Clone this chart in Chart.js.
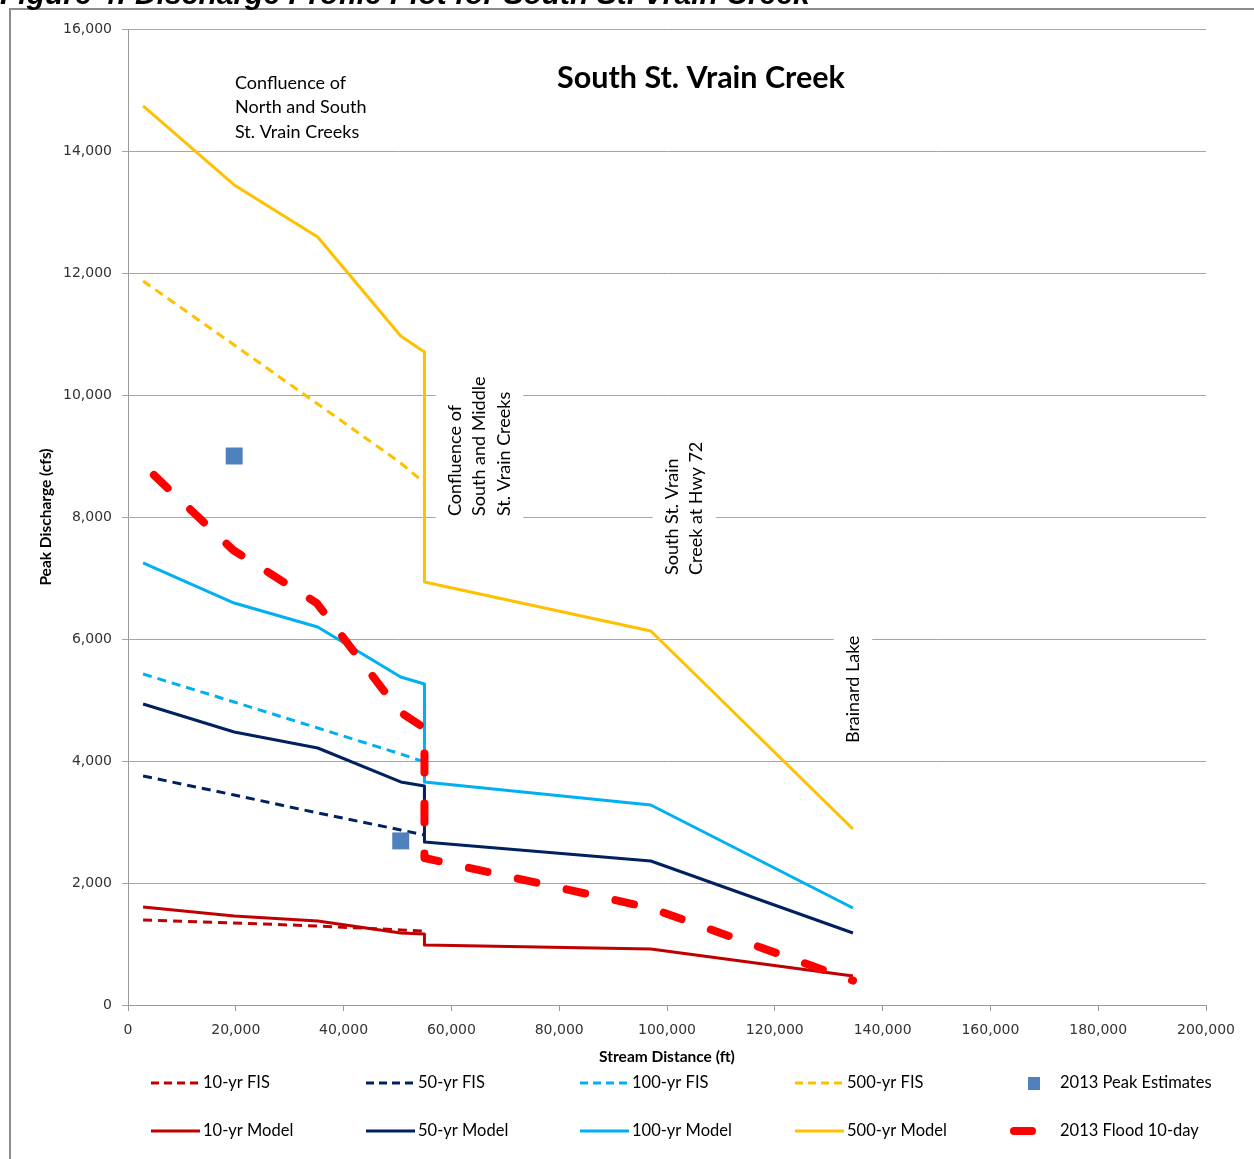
<!DOCTYPE html>
<html>
<head>
<meta charset="utf-8">
<script src="https://cdn.jsdelivr.net/npm/chart.js@4.4.1/dist/chart.umd.min.js"></script>
<style>
  html, body { margin: 0; padding: 0; background: #ffffff; overflow: hidden; }
  #wrap { position: relative; width: 1254px; height: 1159px; }
</style>
</head>
<body>
<div id="wrap"><canvas id="chart" width="1254" height="1159"></canvas></div>
<script>
// Stream distance (ft) of the model nodes; 55,000 ft appears twice for the confluence step
const distanceModel = [2800, 19700, 35200, 50600, 55000, 55000, 97000, 134500];
const q10Model  = [1607, 1459, 1377, 1180, 1164, 984, 918, 475];
const q50Model  = [4934, 4475, 4213, 3656, 3590, 2672, 2361, 1180];
const q100Model = [7246, 6590, 6197, 5377, 5262, 3656, 3279, 1590];
const q500Model = [14738, 13443, 12590, 10967, 10705, 6934, 6131, 2885];

// Effective FIS discharges (upstream reach only)
const distanceFIS = [2800, 19700, 35200, 50600, 55000];
const q10FIS  = [1393, 1344, 1295, 1230, 1213];
const q50FIS  = [3754, 3443, 3148, 2869, 2787];
const q100FIS = [5426, 4967, 4541, 4115, 3984];
const q500FIS = [11869, 10820, 9852, 8885, 8557];

// September 2013 event
const distanceFlood = [4800, 19500, 35000, 50500, 55000, 55000, 97000, 134500];
const flood2013 = [8689, 7459, 6590, 4803, 4541, 2410, 1590, 400];
const distancePeak = [19700, 50600];
const peak2013 = [9000, 2690];

// Axis ticks
const xTicks = [0, 20000, 40000, 60000, 80000, 100000, 120000, 140000, 160000, 180000, 200000];
const yTicks = [0, 2000, 4000, 6000, 8000, 10000, 12000, 14000, 16000];

const COLORS = { q10: '#C00000', q50: '#002060', q100: '#00B0F0', q500: '#FFC000', flood: '#FF0000', peak: '#4F81BD' };

const pts = (xs, ys) => xs.map((x, i) => ({ x, y: ys[i] }));
const fmt = v => Number(v).toLocaleString('en-US');

function lineSet(label, xs, ys, color, dashed) {
  return {
    label, data: pts(xs, ys), showLine: true, borderColor: color, backgroundColor: color,
    borderWidth: 3, borderDash: dashed ? [9, 6] : [], pointRadius: 0, tension: 0,
    borderCapStyle: 'butt', borderJoinStyle: 'round', dashed
  };
}

const datasets = [
  {
    label: '2013 Flood 10-day', data: pts(distanceFlood, flood2013), showLine: true,
    borderColor: COLORS.flood, backgroundColor: COLORS.flood, borderWidth: 8,
    borderDash: [19, 31], borderCapStyle: 'round', borderJoinStyle: 'round', pointRadius: 0, tension: 0
  },
  {
    label: '2013 Peak Estimates', data: pts(distancePeak, peak2013), showLine: false,
    pointStyle: 'rect', pointRadius: 12, pointHoverRadius: 12,
    backgroundColor: COLORS.peak, borderColor: COLORS.peak, borderWidth: 0
  },
  lineSet('10-yr FIS', distanceFIS, q10FIS, COLORS.q10, true),
  lineSet('50-yr FIS', distanceFIS, q50FIS, COLORS.q50, true),
  lineSet('100-yr FIS', distanceFIS, q100FIS, COLORS.q100, true),
  lineSet('500-yr FIS', distanceFIS, q500FIS, COLORS.q500, true),
  lineSet('10-yr Model', distanceModel, q10Model, COLORS.q10, false),
  lineSet('50-yr Model', distanceModel, q50Model, COLORS.q50, false),
  lineSet('100-yr Model', distanceModel, q100Model, COLORS.q100, false),
  lineSet('500-yr Model', distanceModel, q500Model, COLORS.q500, false)
];

// Location notes placed in data units (x = stream distance, y = discharge)
const notes = [
  { lines: ['Confluence of', 'North and South', 'St. Vrain Creeks'], x: 19850, y: 15115, rotate: false },
  { lines: ['Confluence of', 'South and Middle', 'St. Vrain Creeks'], x: 60668, y: 8016, rotate: true },
  { lines: ['South St. Vrain', 'Creek at Hwy 72'], x: 100928, y: 7049, rotate: true },
  { lines: ['Brainard Lake'], x: 134508, y: 4295, rotate: true }
];

const legendRows = [
  ['10-yr FIS', '50-yr FIS', '100-yr FIS', '500-yr FIS', '2013 Peak Estimates'],
  ['10-yr Model', '50-yr Model', '100-yr Model', '500-yr Model', '2013 Flood 10-day']
];

const NOTE_FONT = '18px Lato';
const NOTE_LINE = 24.5;

const decor = {
  id: 'decor',
  beforeDatasetsDraw(chart) {
    const { ctx, scales: { x, y } } = chart;
    ctx.save();
    ctx.font = NOTE_FONT;
    ctx.textBaseline = 'middle';
    notes.forEach(n => {
      const px = x.getPixelForValue(n.x);
      const py = y.getPixelForValue(n.y);
      const w = Math.max(...n.lines.map(l => ctx.measureText(l).width));
      const h = n.lines.length * NOTE_LINE;
      ctx.fillStyle = '#ffffff';
      if (!n.rotate) {
        ctx.fillRect(px - 13, py - NOTE_LINE / 2 - 4, w + 26, h + 8);
      } else {
        ctx.fillRect(px - NOTE_LINE / 2 - 7, py - w - 8, h + 14, w + 12);
      }
      ctx.fillStyle = '#000000';
      ctx.textAlign = 'left';
      n.lines.forEach((line, i) => {
        if (!n.rotate) {
          ctx.fillText(line, px, py + i * NOTE_LINE);
        } else {
          ctx.save();
          ctx.translate(px + i * NOTE_LINE, py);
          ctx.rotate(-Math.PI / 2);
          ctx.fillText(line, 0, 0);
          ctx.restore();
        }
      });
    });
    // chart title
    ctx.font = 'bold 30.5px Lato';
    ctx.textAlign = 'center';
    ctx.fillText('South St. Vrain Creek', x.getPixelForValue(106308), y.getPixelForValue(15197));
    ctx.restore();
  },
  afterDraw(chart) {
    const { ctx, chartArea: a } = chart;
    ctx.save();
    // outer frame (top and left edges of the figure box)
    ctx.strokeStyle = '#8c8c8c';
    ctx.lineWidth = 2;
    ctx.beginPath();
    ctx.moveTo(1254, 9); ctx.lineTo(10, 9); ctx.lineTo(10, 1159);
    ctx.stroke();
    // figure caption, partly above the page edge
    ctx.fillStyle = '#000000';
    ctx.font = 'italic bold 30px "Liberation Sans"';
    ctx.textAlign = 'left';
    ctx.textBaseline = 'alphabetic';
    ctx.fillText('Figure 4: Discharge Profile Plot for South St. Vrain Creek', 0, 4);

    // axis titles
    ctx.font = 'bold 15.5px Lato';
    ctx.textAlign = 'center';
    ctx.textBaseline = 'middle';
    ctx.fillText('Stream Distance (ft)', (a.left + a.right) / 2, a.bottom + 52);
    ctx.save();
    ctx.translate(a.left - 82, (a.top + a.bottom) / 2);
    ctx.rotate(-Math.PI / 2);
    ctx.fillText('Peak Discharge (cfs)', 0, 0);
    ctx.restore();

    // legend: five columns, two rows
    const colX = [151, 366, 580, 795, 1010];
    const rowY = [1083, 1131];
    ctx.font = '16.5px Lato';
    ctx.textAlign = 'left';
    legendRows.forEach((row, r) => {
      row.forEach((label, c) => {
        const ds = chart.data.datasets.find(d => d.label === label);
        const yy = rowY[r];
        const x0 = colX[c];
        ctx.save();
        if (label === '2013 Peak Estimates') {
          ctx.fillStyle = ds.backgroundColor;
          ctx.fillRect(x0 + 18, yy - 6, 12, 13);
          ctx.fillStyle = '#000';
          ctx.fillText(label, x0 + 50, yy);
        } else if (label === '2013 Flood 10-day') {
          ctx.strokeStyle = ds.borderColor;
          ctx.lineWidth = 8;
          ctx.lineCap = 'round';
          ctx.beginPath(); ctx.moveTo(x0 + 4, yy); ctx.lineTo(x0 + 22, yy); ctx.stroke();
          ctx.fillStyle = '#000';
          ctx.fillText(label, x0 + 50, yy);
        } else {
          ctx.strokeStyle = ds.borderColor;
          ctx.lineWidth = 3;
          ctx.setLineDash(ds.dashed ? [8, 5] : []);
          ctx.beginPath(); ctx.moveTo(x0, yy); ctx.lineTo(x0 + 49, yy); ctx.stroke();
          ctx.fillStyle = '#000';
          ctx.fillText(label, x0 + 52, yy);
        }
        ctx.restore();
      });
    });
    ctx.restore();
  }
};

new Chart(document.getElementById('chart'), {
  type: 'scatter',
  data: { datasets },
  options: {
    responsive: false,
    animation: false,
    devicePixelRatio: 1,
    layout: { padding: { left: 0, top: 29, right: 48, bottom: 114 } },
    plugins: { legend: { display: false }, tooltip: { enabled: false }, title: { display: false } },
    scales: {
      x: {
        type: 'linear', min: 0, max: 200000,
        afterFit: s => { s.height = 40; },
        afterBuildTicks: s => { s.ticks = xTicks.map(v => ({ value: v })); },
        ticks: { callback: v => fmt(v), font: { family: 'DejaVu Sans', size: 14 }, color: '#333333', padding: 11, maxRotation: 0 },
        grid: { drawOnChartArea: false, drawTicks: true, tickLength: 6, color: '#9a9a9a' },
        border: { color: '#9a9a9a' }
      },
      y: {
        type: 'linear', min: 0, max: 16000,
        afterFit: s => { s.width = 128; },
        afterBuildTicks: s => { s.ticks = yTicks.map(v => ({ value: v })); },
        ticks: { callback: v => fmt(v), font: { family: 'DejaVu Sans', size: 14 }, color: '#333333', padding: 10 },
        grid: { color: '#a6a6a6', tickLength: 6 },
        border: { color: '#9a9a9a' }
      }
    }
  },
  plugins: [decor]
});
</script>
</body>
</html>
